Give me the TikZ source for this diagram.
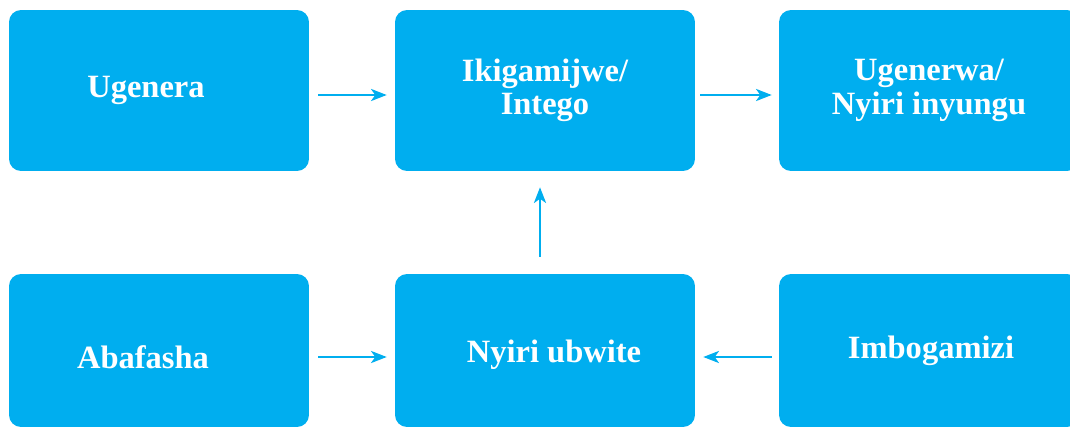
\documentclass[tikz,border=0pt]{standalone}
\usepackage{fontspec}
\setmainfont{Liberation Serif}
\usetikzlibrary{arrows.meta}
\definecolor{boxblue}{HTML}{00AEEF}
\tikzset{
	box/.style={rectangle,rounded corners=0.24cm,fill=boxblue,text=white,inner sep=0pt,minimum width=6cm,align=center,font=\fontsize{18.5}{19}\selectfont\bfseries},
	arr/.style={boxblue,line width=0.7pt,-{Stealth[length=9pt,width=7pt,inset=2.5pt]}}
}
\begin{document}
\begin{tikzpicture}[x=0.02cm,y=-0.02cm]
	\useasboundingbox (0,0) rectangle (1070,429);
	\clip (0,0) rectangle (1070,429);
	\node[box,minimum height=3.22cm](ugenera) at (159,90.5){\hspace*{-0.52cm}Ugenera};
	\node[box,minimum height=3.22cm](intego) at (545,90.5){Ikigamijwe/\\Intego};
	\node[box,minimum height=3.22cm](ugenerwa) at (929,90.5){Ugenerwa/\\Nyiri inyungu};
	\node[box,minimum height=3.06cm,text height=0.72cm,text depth=0cm](abafasha) at (159,350.5){\hspace*{-0.64cm}Abafasha};
	\node[box,minimum height=3.06cm,text height=0.6cm,text depth=0.14cm](nyiri) at (545,350.5){\hspace*{0.36cm}Nyiri ubwite};
	\node[box,minimum height=3.06cm](imbogamizi) at (929,350.5){\hspace*{0.08cm}Imbogamizi};
	\draw[arr,shorten <=0.18cm,shorten >=0.16cm]([yshift=-0.09cm]ugenera.east)--([yshift=-0.09cm]intego.west);
	\draw[arr,shorten <=0.1cm,shorten >=0.14cm]([yshift=-0.09cm]intego.east)--([yshift=-0.09cm]ugenerwa.west);
	\draw[arr,shorten <=0.34cm,shorten >=0.32cm]([xshift=-0.1cm]nyiri.north)--([xshift=-0.1cm]intego.south);
	\draw[arr,shorten <=0.18cm,shorten >=0.16cm]([yshift=-0.13cm]abafasha.east)--([yshift=-0.13cm]nyiri.west);
	\draw[arr,shorten <=0.14cm,shorten >=0.16cm]([yshift=-0.13cm]imbogamizi.west)--([yshift=-0.13cm]nyiri.east);
\end{tikzpicture}
\end{document}
